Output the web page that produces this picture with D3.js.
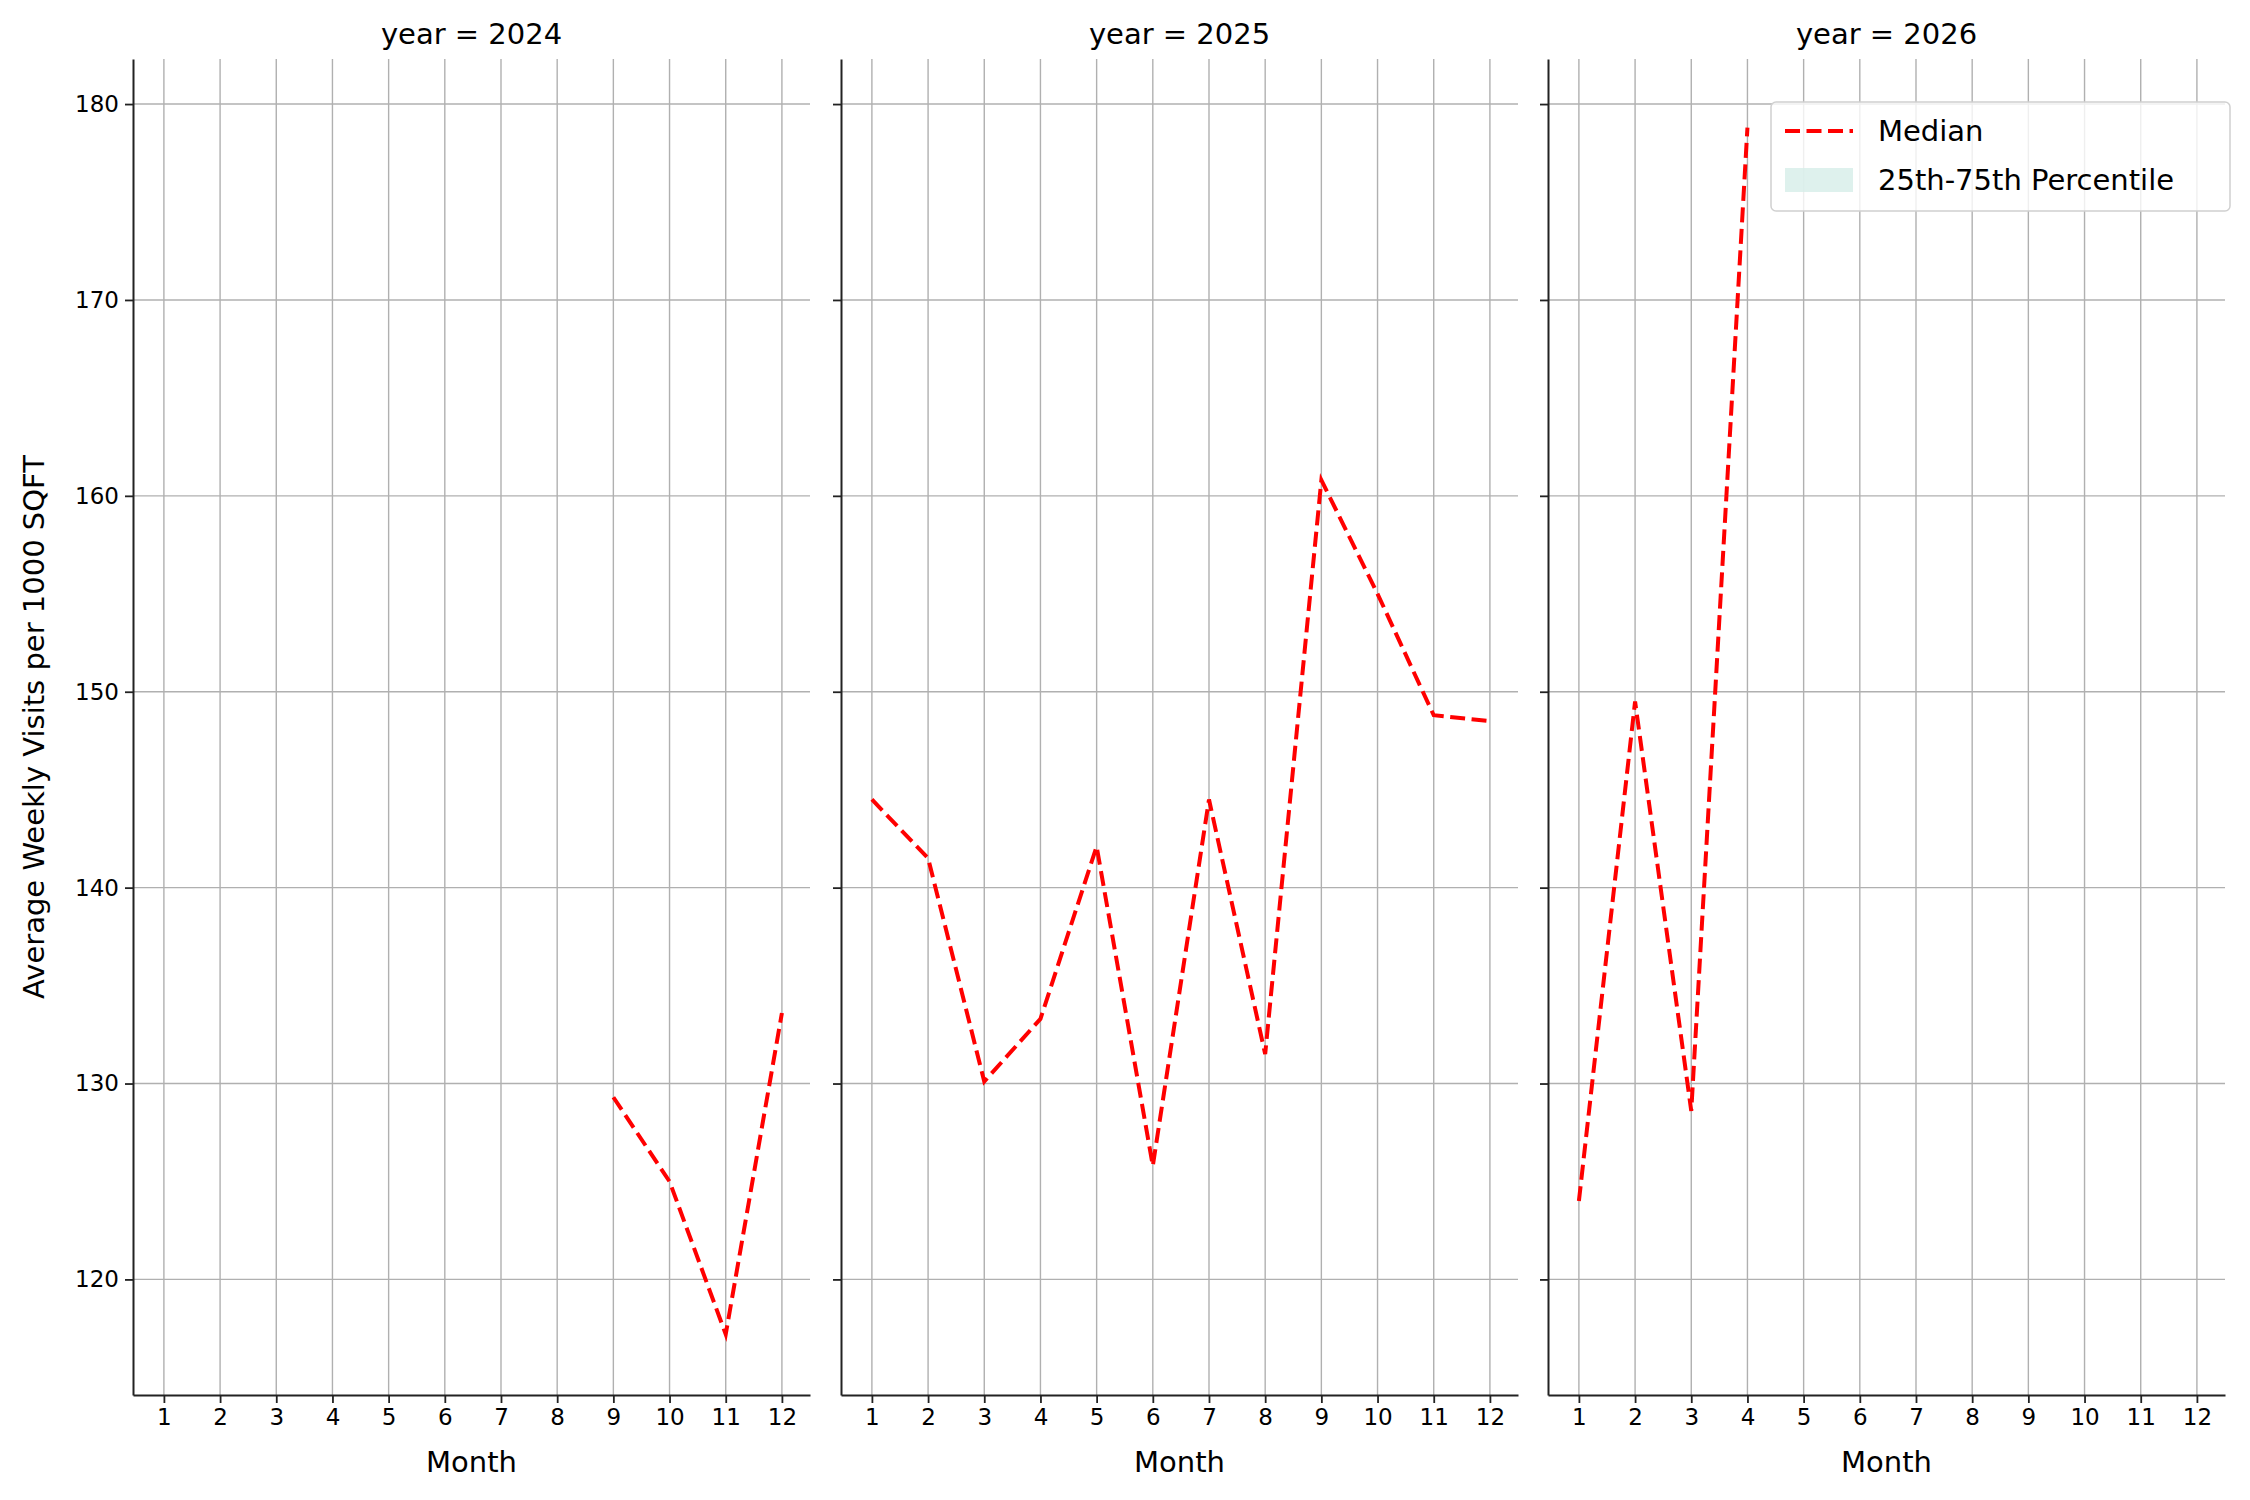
<!DOCTYPE html><html><head><meta charset="utf-8"><script src="https://cdn.jsdelivr.net/npm/d3@7"></script>
<style>body{margin:0;background:#fff}text{font-family:"DejaVu Sans",sans-serif}</style></head><body>
<svg id="c" width="2250" height="1500"></svg>
<script>
const years=[2024,2025,2026];
const months=[1,2,3,4,5,6,7,8,9,10,11,12];
const yTicks=[120,130,140,150,160,170,180];
const m2024=[9,10,11,12], v2024=[129.3,125.0,117.2,133.6];
const m2025=[1,2,3,4,5,6,7,8,9,10,11,12], v2025=[144.5,141.5,130.1,133.3,142.1,125.8,144.5,131.5,160.8,155.0,148.8,148.5];
const m2026=[1,2,3,4], v2026=[124.0,149.5,128.6,178.8];
const series=[[m2024,v2024],[m2025,v2025],[m2026,v2026]];
(function(){
const svg=d3.select("#c");
const pTop=59,pBottom=1395,pw=677,lefts=[133,841,1548];
const y=d3.scaleLinear().domain([114.1,182.3]).range([pBottom,pTop]);
years.forEach((yr,i)=>{
  const L=lefts[i];
  const x=d3.scaleLinear().domain([0.45,12.5]).range([L,L+pw]);
  const g=svg.append("g");
  g.selectAll(".vg").data(months).join("line").attr("x1",d=>x(d)).attr("x2",d=>x(d)).attr("y1",pTop).attr("y2",pBottom).attr("stroke","#b0b0b0").attr("stroke-width",1.4);
  g.selectAll(".hg").data(yTicks).join("line").attr("x1",L).attr("x2",L+pw).attr("y1",d=>y(d)).attr("y2",d=>y(d)).attr("stroke","#b0b0b0").attr("stroke-width",1.4);
  const xa=g.append("g").attr("transform",`translate(0,${pBottom})`).call(d3.axisBottom(x).tickValues(months).tickSize(8).tickPadding(6).tickSizeOuter(0));
  const ya=g.append("g").attr("transform",`translate(${L},0)`).call(d3.axisLeft(y).tickValues(yTicks).tickSize(8).tickPadding(6).tickSizeOuter(0).tickFormat(i==0?d3.format("d"):""));
  [xa,ya].forEach(a=>{a.select(".domain").attr("stroke","#222").attr("stroke-width",2);a.selectAll(".tick line").attr("stroke","#222").attr("stroke-width",1.8);a.selectAll("text").attr("font-size",23).attr("fill","#000").attr("font-family","DejaVu Sans");});
  g.append("text").attr("x",L+pw/2).attr("y",44).attr("text-anchor","middle").attr("font-size",29).text(`year = ${yr}`);
  g.append("text").attr("x",L+pw/2).attr("y",1472).attr("text-anchor","middle").attr("font-size",29).text("Month");
  const [ms,vs]=series[i];
  const pts=ms.map((m,j)=>[m,vs[j]]);
  g.append("path").datum(pts).attr("fill","none").attr("stroke","#ff0000").attr("stroke-width",4).attr("stroke-dasharray","15,6.5")
   .attr("d",d3.line().x(d=>x(d[0])).y(d=>y(d[1])));
});
svg.append("text").attr("transform",`translate(44,${(pTop+pBottom)/2}) rotate(-90)`).attr("text-anchor","middle").attr("font-size",29).text("Average Weekly Visits per 1000 SQFT");
const lg=svg.append("g");
lg.append("rect").attr("x",1771).attr("y",102).attr("width",459).attr("height",109).attr("rx",5).attr("fill","#fff").attr("fill-opacity",0.8).attr("stroke","#d0d0d0").attr("stroke-width",1.5);
lg.append("line").attr("x1",1785).attr("x2",1853).attr("y1",131).attr("y2",131).attr("stroke","#ff0000").attr("stroke-width",4).attr("stroke-dasharray","15,6.5");
lg.append("rect").attr("x",1785).attr("y",168).attr("width",68).attr("height",24).attr("fill","#d6eee8").attr("opacity",0.8);
lg.append("text").attr("x",1878).attr("y",141).attr("font-size",29).text("Median");
lg.append("text").attr("x",1878).attr("y",190).attr("font-size",29).text("25th-75th Percentile");
})();
</script></body></html>
